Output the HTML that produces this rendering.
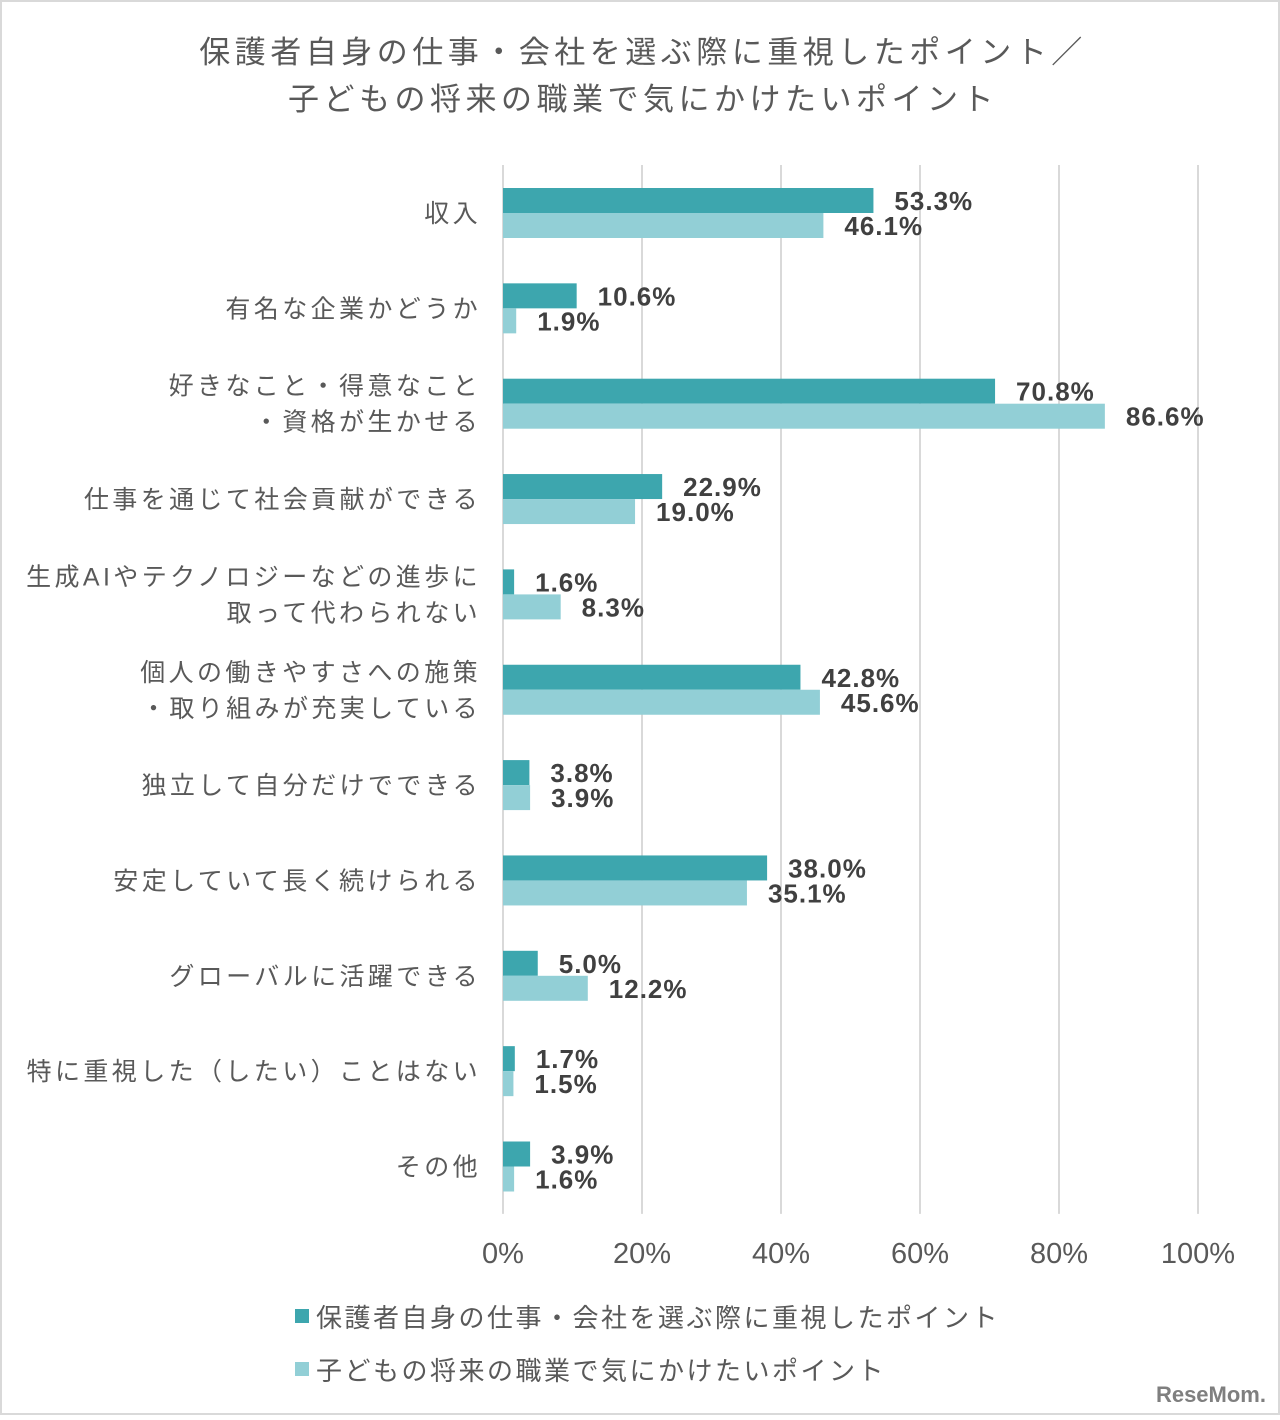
<!DOCTYPE html>
<html><head><meta charset="utf-8"><style>
body{margin:0;background:#fff;}
svg text{font-family:"Liberation Sans","Noto Sans CJK JP",sans-serif;}
</style></head><body>
<svg id="chart" width="1280" height="1415" xmlns="http://www.w3.org/2000/svg">
<rect x="1" y="1" width="1278" height="1413" fill="#fff" stroke="#d9d9d9" stroke-width="2"/>
<text x="643" y="63" text-anchor="middle" font-size="31" letter-spacing="4.5" fill="#595959">保護者自身の仕事・会社を選ぶ際に重視したポイント／</text>
<text x="643" y="110" text-anchor="middle" font-size="31" letter-spacing="4.5" fill="#595959">子どもの将来の職業で気にかけたいポイント</text>
<g id="grid"></g><g id="bars"></g><g id="labels"></g>
<rect x="295" y="1309" width="14" height="14" fill="#3DA6AE"/>
<text x="316" y="1327" font-size="26" letter-spacing="2.5" fill="#595959">保護者自身の仕事・会社を選ぶ際に重視したポイント</text>
<rect x="295" y="1362" width="14" height="14" fill="#92CFD6"/>
<text x="316" y="1380" font-size="26" letter-spacing="2.5" fill="#595959">子どもの将来の職業で気にかけたいポイント</text>
<text x="1266" y="1402" text-anchor="end" font-size="22" font-weight="bold" fill="#7f7f7f">ReseMom.</text>
</svg>
<script>
const categories=[["収入"],["有名な企業かどうか"],["好きなこと・得意なこと","・資格が生かせる"],["仕事を通じて社会貢献ができる"],["生成AIやテクノロジーなどの進歩に","取って代わられない"],["個人の働きやすさへの施策","・取り組みが充実している"],["独立して自分だけでできる"],["安定していて長く続けられる"],["グローバルに活躍できる"],["特に重視した（したい）ことはない"],["その他"]];
const parentValues=[53.3,10.6,70.8,22.9,1.6,42.8,3.8,38.0,5.0,1.7,3.9];
const childValues=[46.1,1.9,86.6,19.0,8.3,45.6,3.9,35.1,12.2,1.5,1.6];
const tickValues=[0,20,40,60,80,100];
const tickLabels=["0%","20%","40%","60%","80%","100%"];
const NS="http://www.w3.org/2000/svg";
const x0=503,xw=695,top0=165,rowH=95.35;
const xs=v=>x0+v/100*xw;
const rowY=i=>top0+i*rowH;
function mk(tag,attrs,parent,txt){const e=document.createElementNS(NS,tag);for(const k in attrs)e.setAttribute(k,attrs[k]);if(txt!=null)e.textContent=txt;document.getElementById(parent).appendChild(e);return e;}
tickValues.forEach((t,i)=>{
 const l=mk('line',{x1:xs(t),x2:xs(t),y1:top0,y2:top0+rowH*categories.length,stroke:'#d9d9d9','stroke-width':2},'grid');
 
 
 const tx=mk('text',{x:xs(t),y:1263,'text-anchor':'middle','font-size':29,fill:'#595959'},'labels',tickLabels[i]);
 
 
});
categories.forEach((c,i)=>{
 const y=rowY(i)+23;
 const b1=mk('rect',{x:x0,y:y,width:xs(parentValues[i])-x0,height:25,fill:'#3DA6AE'},'bars');
 
 
 const b2=mk('rect',{x:x0,y:y+25,width:xs(childValues[i])-x0,height:25,fill:'#92CFD6'},'bars');
 
 
 const v1=mk('text',{x:xs(parentValues[i])+21,y:y+22,'font-size':26,'font-weight':'bold','letter-spacing':1,fill:'#404040'},'labels',parentValues[i].toFixed(1)+'%');
 
 
 const v2=mk('text',{x:xs(childValues[i])+21,y:y+47,'font-size':26,'font-weight':'bold','letter-spacing':1,fill:'#404040'},'labels',childValues[i].toFixed(1)+'%');
 
 
 const cy=y+25;
 c.forEach((line,j)=>{
  const off=c.length===1?9:(j===0?-9:27);
  const t=mk('text',{x:481,y:cy+off,'text-anchor':'end','font-size':25,'letter-spacing':3.4,fill:'#595959'},'labels',line);
  
  
 });
});
</script>
</body></html>
